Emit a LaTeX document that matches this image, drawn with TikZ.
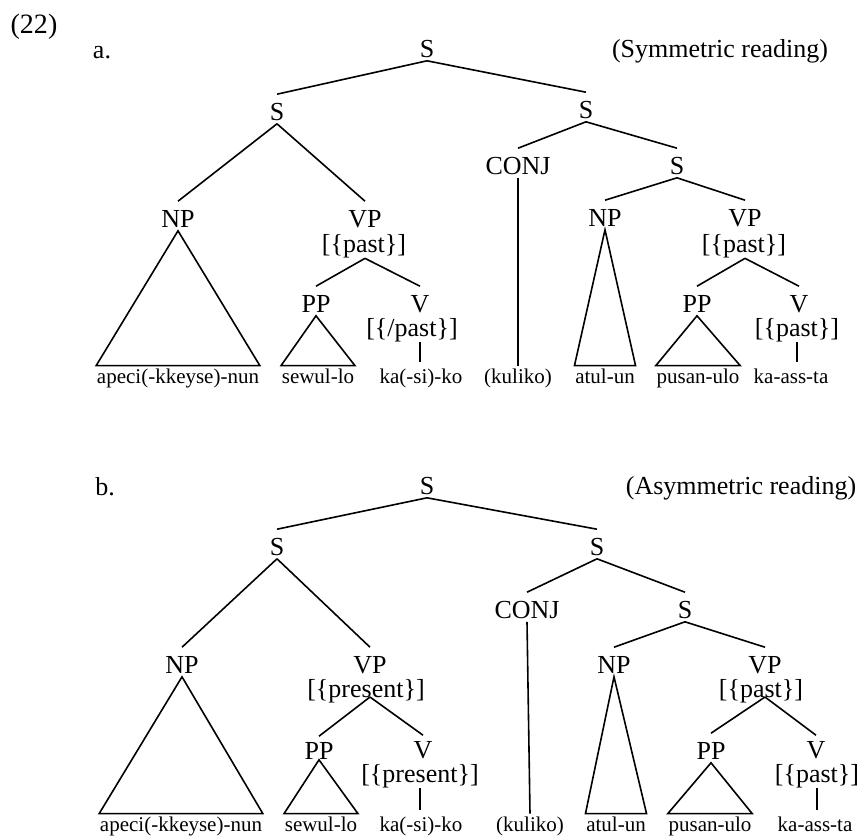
\documentclass[tikz,border=0pt]{standalone}
\usepackage{fontspec}
\setmainfont{Liberation Serif}
\usepackage{tikz}

\tikzset{
  cat/.style={anchor=base, font=\fontsize{26}{28}\selectfont, inner xsep=1pt, inner ysep=3pt, text height=22pt, text depth=0pt},
  feat/.style={anchor=base, font=\fontsize{26}{28}\selectfont, inner sep=0pt},
  leaf/.style={anchor=base, font=\fontsize{21}{23}\selectfont, inner xsep=0pt, inner ysep=2pt},
  bar/.style={shorten >=4pt}
}

\begin{document}
\begin{tikzpicture}[x=1pt, y=-1pt, line width=1.6pt]
\useasboundingbox (0,0) rectangle (864,839);
\node[anchor=base, font=\fontsize{28}{30}\selectfont, inner sep=0pt] (exnum) at (34,33) {(22)};

% tree a
\node[feat] (lblA) at (102,58) {a.};
\node[feat] (readA) at (720,57) {(Symmetric reading)};
\node[cat] (sA) at (427,57) {S};
\node[cat] (s1A) at (277,120) {S};
\node[cat] (s2A) at (586,118) {S};
\node[cat] (npA) at (178,227) {NP};
\node[cat] (vpA) at (365,227) {VP};
\node[feat] (vpfA) at (364,252) {[\{past\}]};
\node[cat] (ppA) at (316,312) {PP};
\node[cat] (vA) at (420,312) {V};
\node[feat] (vfA) at (412,336) {[\{/past\}]};
\node[cat] (conjA) at (518,174) {CONJ};
\node[cat] (s3A) at (677,174) {S};
\node[cat] (np2A) at (605,226) {NP};
\node[cat] (vp2A) at (745,226) {VP};
\node[feat] (vpf2A) at (744,252) {[\{past\}]};
\node[cat] (pp2A) at (697,312) {PP};
\node[cat] (v2A) at (799,312) {V};
\node[feat] (vf2A) at (797,336) {[\{past\}]};
\node[leaf] (apeciA) at (178,383) {apeci(-kkeyse)-nun};
\node[leaf] (sewulA) at (318,383) {sewul-lo};
\node[leaf] (kasikoA) at (421,383) {ka(-si)-ko};
\node[leaf] (kulikoA) at (518,383) {(kuliko)};
\node[leaf] (atulA) at (605,383) {atul-un};
\node[leaf] (pusanA) at (698,383) {pusan-ulo};
\node[leaf] (kaassA) at (791,383) {ka-ass-ta};

\draw (sA.south) -- (s1A.north);
\draw (sA.south) -- (s2A.north);
\draw (s1A.south) -- (npA.north);
\draw (s1A.south) -- (vpA.north);
\draw (npA.south) -- (apeciA.north west) -- (apeciA.north east) -- cycle;
\draw (vpA |- vpfA.south) -- (ppA.north);
\draw (vpA |- vpfA.south) -- (vA.north);
\draw (ppA.south) -- (sewulA.north west) -- (sewulA.north east) -- cycle;
\draw[bar] (vA |- vfA.south) -- (vA |- kasikoA.north);
\draw (s2A.south) -- (conjA.north);
\draw (s2A.south) -- (s3A.north);
\draw (conjA.south) -- (kulikoA.north);
\draw (s3A.south) -- (np2A.north);
\draw (s3A.south) -- (vp2A.north);
\draw (np2A.south) -- (atulA.north west) -- (atulA.north east) -- cycle;
\draw (vp2A |- vpf2A.south) -- (pp2A.north);
\draw (vp2A |- vpf2A.south) -- (v2A.north);
\draw (pp2A.south) -- (pusanA.north west) -- (pusanA.north east) -- cycle;
\draw[bar] (vf2A.south) -- (vf2A.south |- kaassA.north);

% tree b
\node[feat] (lblB) at (105,495) {b.};
\node[feat] (readB) at (741,494) {(Asymmetric reading)};
\node[cat] (sB) at (427,494) {S};
\node[cat] (s1B) at (277,555) {S};
\node[cat] (s2B) at (597,555) {S};
\node[cat] (npB) at (182,673) {NP};
\node[cat] (vpB) at (370,673) {VP};
\node[feat] (vpfB) at (366,697) {[\{present\}]};
\node[cat, inner ysep=0pt] (ppB) at (319,759) {PP};
\node[cat, inner ysep=0pt] (vB) at (423,758) {V};
\node[feat] (vfB) at (420,782) {[\{present\}]};
\node[cat] (conjB) at (527,618) {CONJ};
\node[cat] (s3B) at (685,618) {S};
\node[cat] (np2B) at (614,673) {NP};
\node[cat] (vp2B) at (765,673) {VP};
\node[feat] (vpf2B) at (761,697) {[\{past\}]};
\node[cat] (pp2B) at (711,759) {PP};
\node[cat, inner ysep=0pt] (v2B) at (816,758) {V};
\node[feat] (vf2B) at (817,782) {[\{past\}]};
\node[leaf] (apeciB) at (181,831) {apeci(-kkeyse)-nun};
\node[leaf] (sewulB) at (321,831) {sewul-lo};
\node[leaf] (kasikoB) at (421,831) {ka(-si)-ko};
\node[leaf] (kulikoB) at (530,831) {(kuliko)};
\node[leaf] (atulB) at (616,831) {atul-un};
\node[leaf] (pusanB) at (710,831) {pusan-ulo};
\node[leaf] (kaassB) at (815,831) {ka-ass-ta};

\draw (sB.south) -- (s1B.north);
\draw (sB.south) -- (s2B.north);
\draw (s1B.south) -- (npB.north);
\draw (s1B.south) -- (vpB.north);
\draw (npB.south) -- (apeciB.north west) -- (apeciB.north east) -- cycle;
\draw (vpB |- vpfB.base) -- (ppB.north);
\draw (vpB |- vpfB.base) -- (vB.north);
\draw (ppB.south) -- (sewulB.north west) -- (sewulB.north east) -- cycle;
\draw[bar] (vfB.south) -- (vfB.south |- kasikoB.north);
\draw (s2B.south) -- (conjB.north);
\draw (s2B.south) -- (s3B.north);
\draw (conjB.south) -- (kulikoB.north);
\draw (s3B.south) -- (np2B.north);
\draw (s3B.south) -- (vp2B.north);
\draw (np2B.south) -- (atulB.north west) -- (atulB.north east) -- cycle;
\draw (vp2B |- vpf2B.base) -- (pp2B.north);
\draw (vp2B |- vpf2B.base) -- (v2B.north);
\draw (pp2B.south) -- (pusanB.north west) -- (pusanB.north east) -- cycle;
\draw[bar] (vf2B.south) -- (vf2B.south |- kaassB.north);
\end{tikzpicture}
\end{document}
